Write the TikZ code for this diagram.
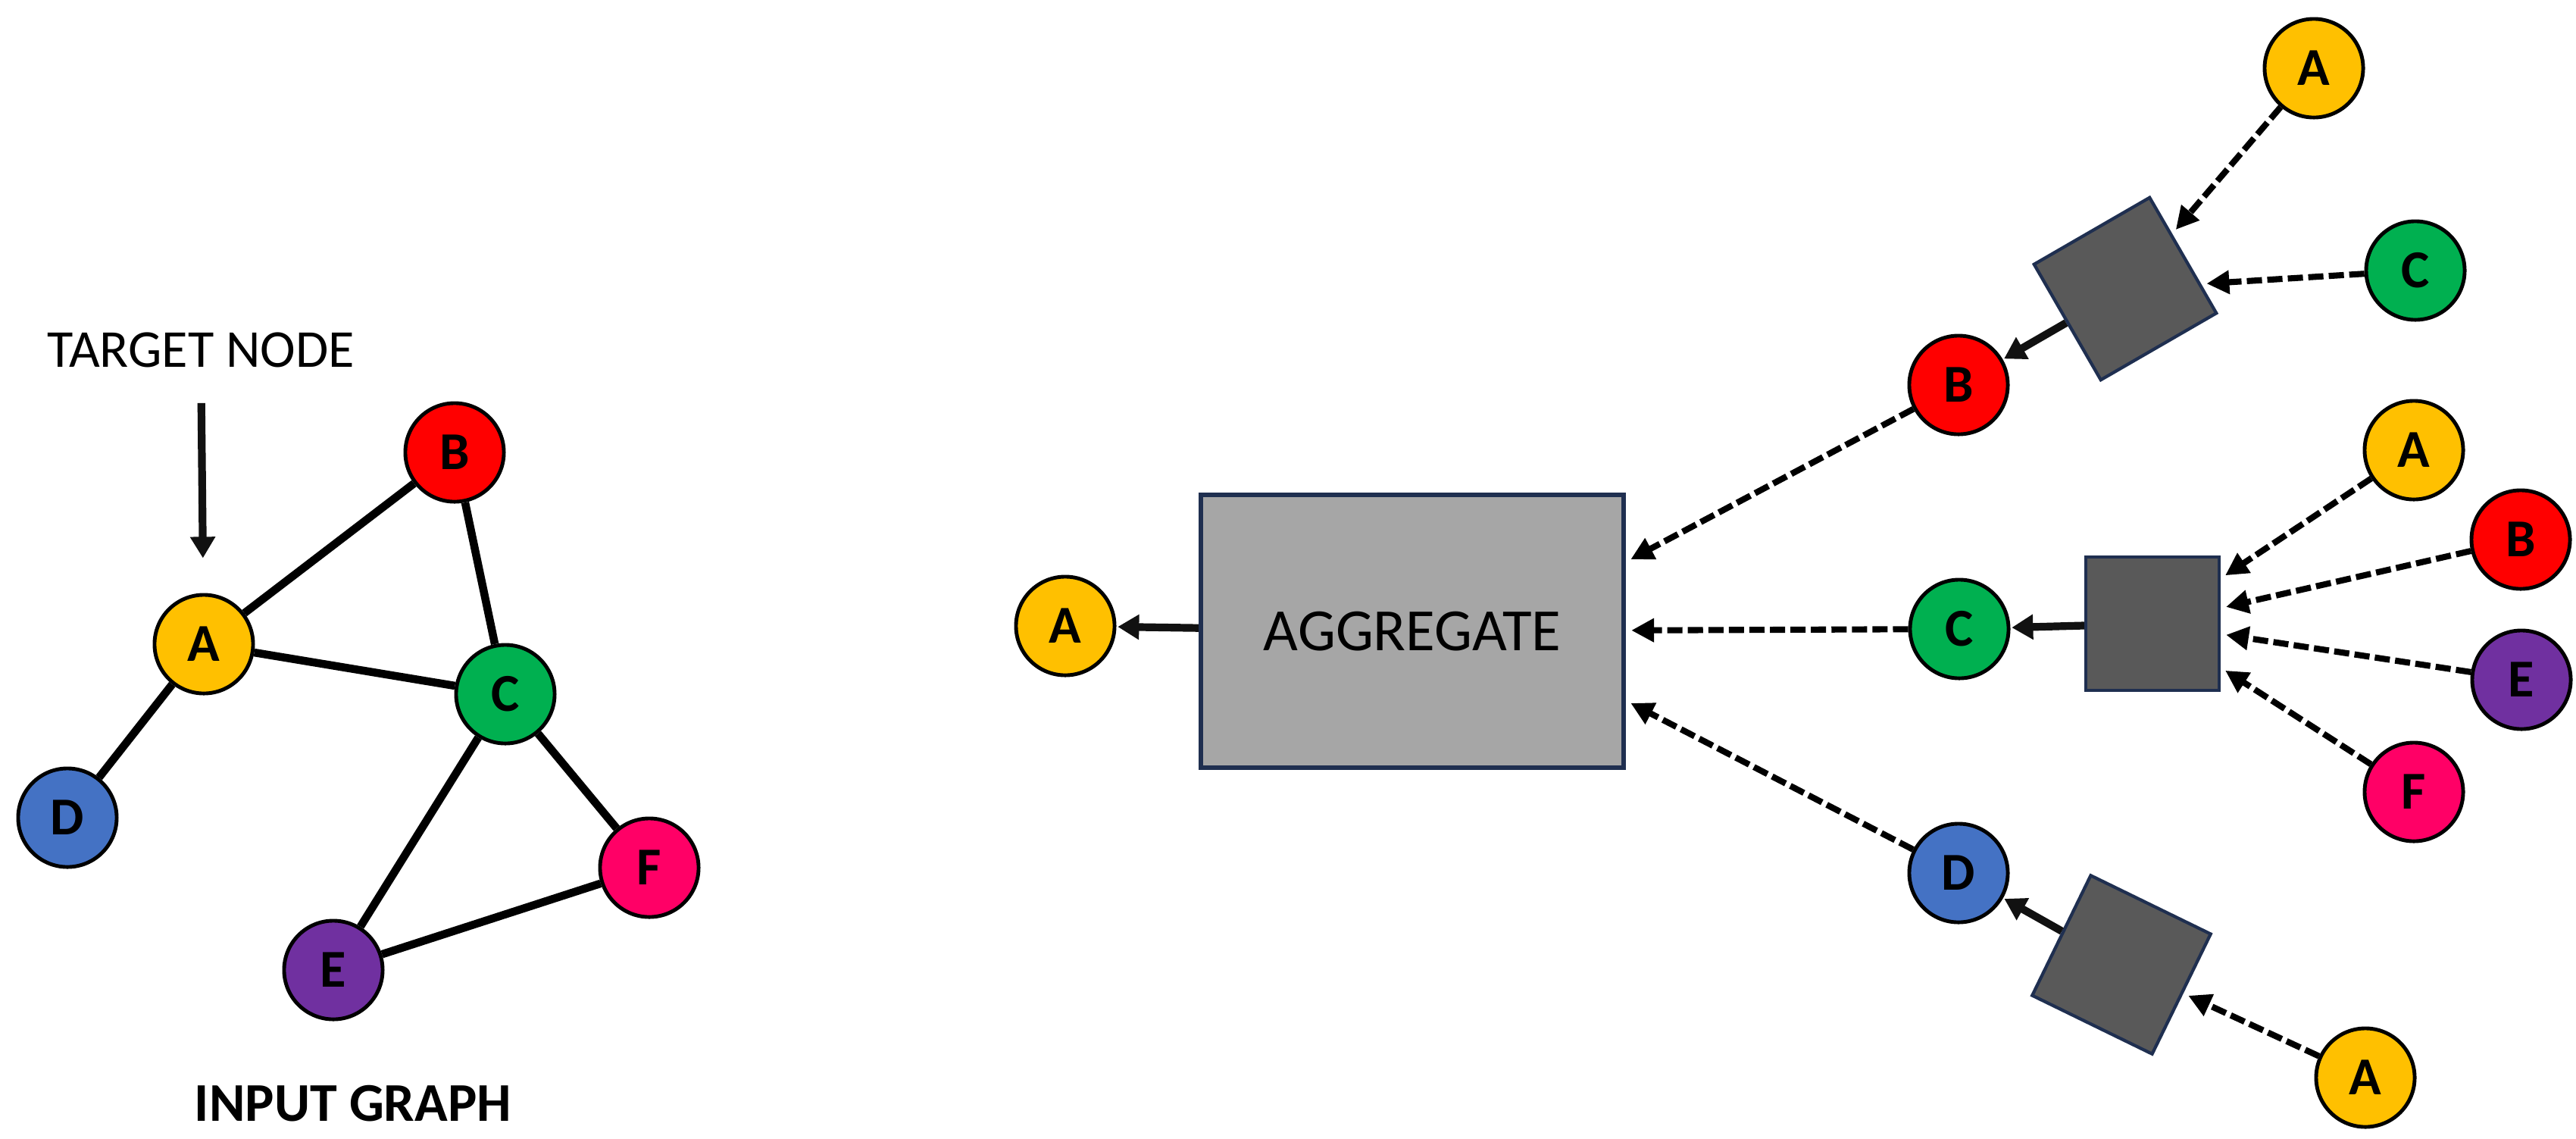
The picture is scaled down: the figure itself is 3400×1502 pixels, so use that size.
\documentclass[tikz,border=0pt]{standalone}
\usepackage{fontspec}
\setmainfont{Carlito}
\usetikzlibrary{arrows.meta}

\definecolor{colA}{HTML}{FFC000}
\definecolor{colB}{HTML}{FF0000}
\definecolor{colC}{HTML}{00B050}
\definecolor{colD}{HTML}{4472C4}
\definecolor{colE}{HTML}{7030A0}
\definecolor{colF}{HTML}{FF0066}
\definecolor{mixgray}{HTML}{595959}
\definecolor{agggray}{HTML}{A6A6A6}
\definecolor{navy}{HTML}{1F2F50}
\definecolor{ink}{HTML}{111111}

\begin{document}
\begin{tikzpicture}[x=0.01cm,y=-0.01cm,
  vertex/.style={circle, draw=black, line width=1.4pt, minimum size=1.30cm, inner sep=0pt,
    font=\fontsize{20}{24}\selectfont\bfseries},
  edge/.style={line width=3pt},
  push/.style={draw=ink, line width=2.9pt, -{Triangle[length=8pt,width=9pt]}},
  msg/.style={line width=2.3pt, dash pattern=on 5.7pt off 2pt, shorten >=2pt,
    -{Triangle[length=8.5pt,width=8.5pt]}},
  mixer/.style={rectangle, draw=navy, fill=mixgray, line width=1.2pt, minimum size=1.76cm, inner sep=0pt},
  aggbox/.style={rectangle, draw=navy, fill=agggray, line width=1.7pt, minimum width=5.58cm,
    minimum height=3.60cm, font=\fontsize{22.5}{27}\selectfont},
  caption/.style={inner sep=0pt, font=\fontsize{20}{24}\selectfont}
]
\useasboundingbox (0,0) rectangle (3400,1502);

% input graph
\foreach \name/\px/\py/\col/\lab in {ga/269/850/colA/A, gb/600/597/colB/B, gc/667/916/colC/C,
    gd/89/1079/colD/D, ge/440/1280/colE/E, gf/857/1145/colF/F}{
  \node[vertex, fill=\col] (\name) at (\px,\py) {\lab};
}
\foreach \u/\v in {ga/gb, ga/gc, ga/gd, gb/gc, gc/ge, gc/gf, ge/gf}{
  \draw[edge] (\u) -- (\v);
}
\node[caption] (target) at (265,462) {TARGET NODE};
\draw[push, shorten <=0.46cm, shorten >=0.46cm] (target) -- (ga);
\node[caption, font=\fontsize{20.5}{24}\selectfont\bfseries] (title) at (466,1456) {INPUT GRAPH};

% aggregation tree
\node[aggbox] (agg) at (1864,833) {AGGREGATE};
\node[vertex, fill=colA] (aRes) at (1406,826) {A};

\foreach \name/\px/\py/\col/\lab in {bHop/2585/508/colB/B, cHop/2586/830/colC/C, dHop/2585/1152/colD/D,
    bA/3054/90/colA/A, bC/3188/357/colC/C,
    cA/3186/594/colA/A, cB/3327/712/colB/B, cE/3328/897/colE/E, cF/3186/1045/colF/F,
    dA/3122/1422/colA/A}{
  \node[vertex, fill=\col] (\name) at (\px,\py) {\lab};
}
\node[mixer, rotate=30] (bMix) at (2805,381) {};
\node[mixer] (cMix) at (2841,823) {};
\node[mixer, rotate=-26] (dMix) at (2800,1273) {};

\foreach \u/\v in {bA/bMix, bC/bMix, cA/cMix, cB/cMix, cE/cMix, cF/cMix, dA/dMix,
    bHop/agg.18, cHop/agg, dHop/agg.342}{
  \draw[msg] (\u) -- (\v);
}
\foreach \u/\v in {bMix/bHop, cMix/cHop, dMix/dHop, agg/aRes}{
  \draw[push, shorten >=0.5pt] (\u) -- (\v);
}

\end{tikzpicture}
\end{document}
